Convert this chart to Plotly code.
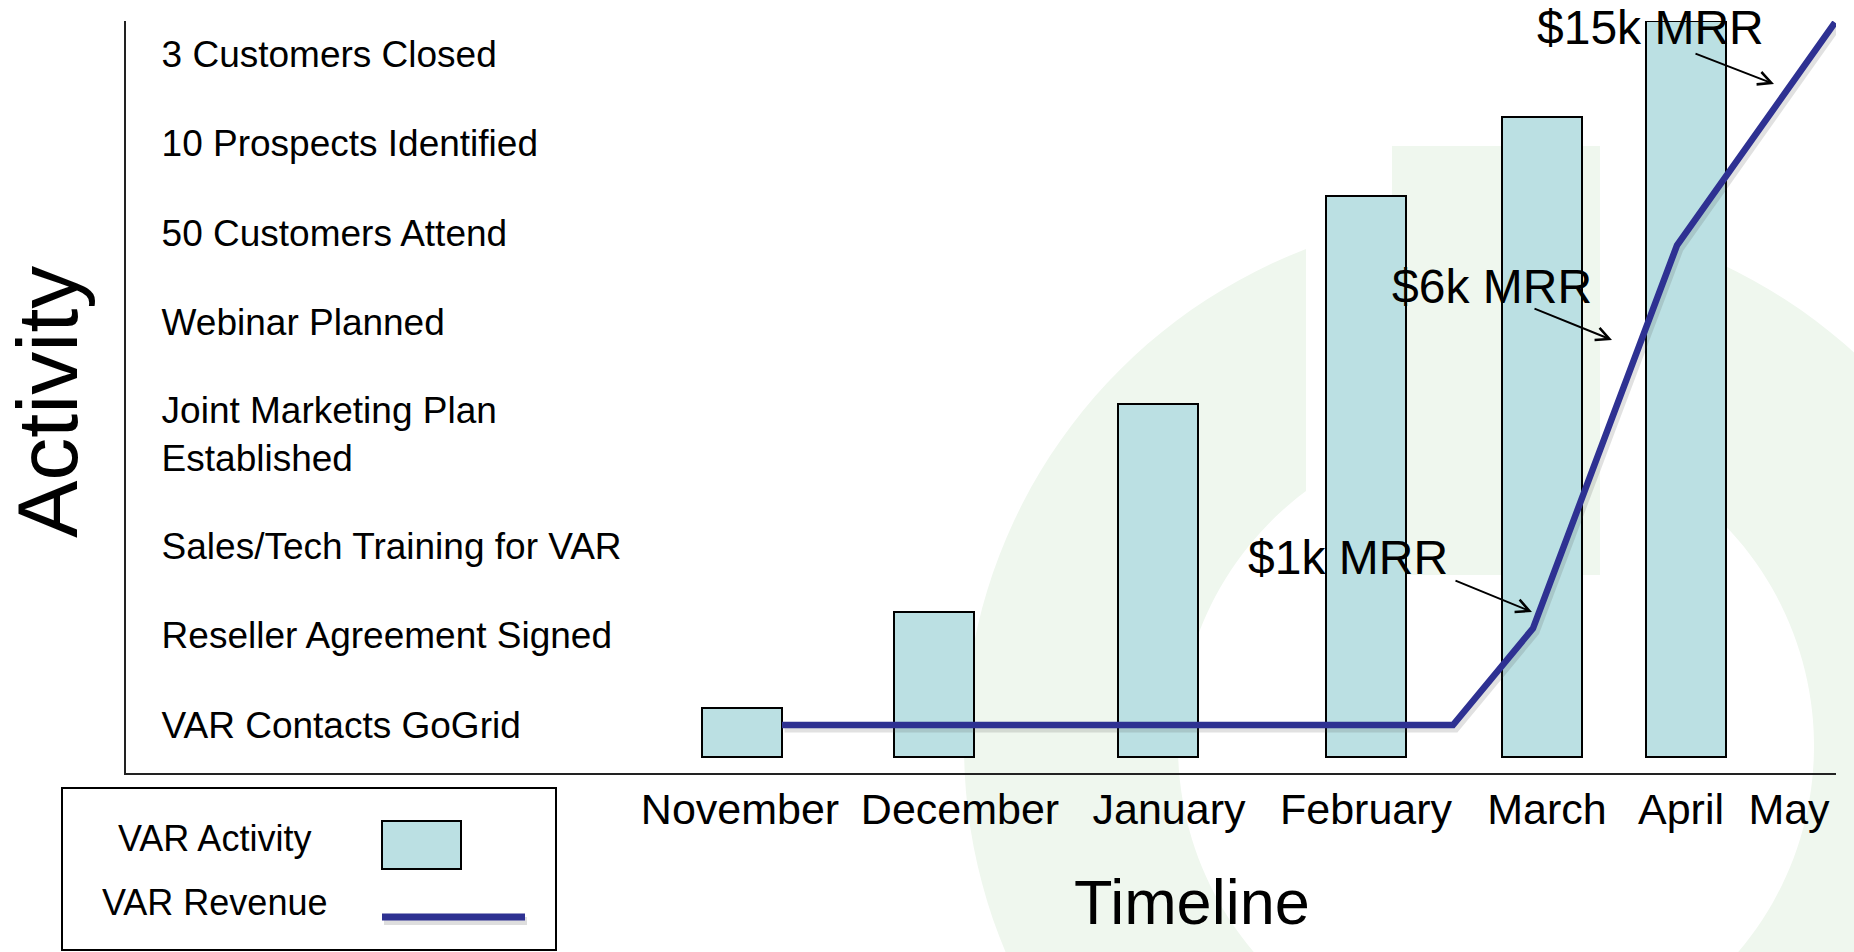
import numpy as np
import plotly.graph_objects as go

# ---- data ---------------------------------------------------------------
# Timeline (x) positions are in "timeline units"; activity (y) levels are
# one unit per milestone, with "VAR Contacts GoGrid" at level 1.
month_labels = ["November", "December", "January", "February", "March", "April", "May"]
month_label_pos = [6.14, 8.34, 10.43, 12.40, 14.21, 15.55, 16.63]

bar_months = ["November", "December", "January", "February", "March", "April"]
bar_pos = [6.16, 8.08, 10.32, 12.395, 14.16, 15.60]
activity_top = [1.19, 2.26, 4.59, 6.91, 7.79, 8.87]
activity_base = 0.64

activity_labels = [
    "VAR Contacts GoGrid",
    "Reseller Agreement Signed",
    "Sales/Tech Training for VAR",
    "Joint Marketing Plan<br>Established",
    "Webinar Planned",
    "50 Customers Attend",
    "10 Prospects Identified",
    "3 Customers Closed",
]
activity_levels = [1, 2, 3, 4.25, 5.5, 6.5, 7.5, 8.5]

revenue_x = [6.56, 13.27, 14.07, 15.51, 17.09]
revenue_y = [1.0, 1.0, 2.08, 6.36, 8.85]

mrr_labels = ["$1k MRR", "$6k MRR", "$15k MRR"]
mrr_text_xy = [(12.22, 2.877), (13.66, 5.905), (15.24, 8.79)]
mrr_arrow_tail = [(13.28, 2.62), (14.07, 5.659), (15.68, 8.508)]
mrr_arrow_tip = [(14.06, 2.263), (14.86, 5.302), (16.48, 8.162)]

# ---- styling ------------------------------------------------------------
FONT = "Liberation Sans, Arial, sans-serif"
BAR_FILL = "#BBE0E3"
LINE_BLUE = "#2E3192"
WATERMARK = "#EFF7EE"

W, H = 1854, 952
ML, MR, MT, MB = 126, 18, 21, 179
PW, PH = W - ML - MR, H - MT - MB
X_RANGE = [0, 17.10]
Y_RANGE = [0.4637, 8.866]


def px(x):
    """pixel column -> paper x"""
    return (x - ML) / PW


def py(y):
    """pixel row -> paper y"""
    return (H - MB - y) / PH


fig = go.Figure()

# soft drop shadow under the revenue line
fig.add_trace(go.Scatter(
    x=[v + 0.025 for v in revenue_x], y=[v - 0.04 for v in revenue_y],
    mode="lines", line=dict(color="rgba(70,70,70,0.16)", width=8),
    hoverinfo="skip", showlegend=False,
))

fig.add_trace(go.Bar(
    x=bar_pos, y=[t - activity_base for t in activity_top], base=activity_base,
    width=0.8, name="VAR Activity", text=bar_months, textposition="none",
    marker=dict(color=BAR_FILL, line=dict(color="black", width=2)),
    showlegend=False,
))

fig.add_trace(go.Scatter(
    x=revenue_x, y=revenue_y, mode="lines", name="VAR Revenue",
    line=dict(color=LINE_BLUE, width=6.5), showlegend=False,
))

# ---- watermark: light power-symbol logo ----------------------------------
cx, cy, R, r, gap = 1496, 746, 532, 318, 190
t_out0 = np.degrees(np.arccos(-gap / R))
t_in0 = np.degrees(np.arccos(-gap / r))
t_outer = np.radians(np.linspace(t_out0, 360 + (180 - t_out0), 160))
t_inner = np.radians(np.linspace(360 + (180 - t_in0), t_in0, 160))
pts = [(cx + R * np.cos(t), cy - R * np.sin(t)) for t in t_outer]
pts += [(cx + r * np.cos(t), cy - r * np.sin(t)) for t in t_inner]
ring_path = "M " + " L ".join(f"{px(a):.5f},{py(b):.5f}" for a, b in pts) + " Z"

shapes = [
    dict(type="path", path=ring_path, xref="paper", yref="paper",
         fillcolor=WATERMARK, line=dict(width=0), layer="below"),
    dict(type="rect", xref="paper", yref="paper",
         x0=px(1392), x1=px(1600), y0=py(575), y1=py(146),
         fillcolor=WATERMARK, line=dict(width=0), layer="below"),
]

# ---- legend box ------------------------------------------------------------
shapes += [
    dict(type="rect", xref="paper", yref="paper",
         x0=px(62), x1=px(556), y0=py(950), y1=py(788),
         line=dict(color="black", width=2), fillcolor="white", layer="above"),
    dict(type="rect", xref="paper", yref="paper",
         x0=px(382), x1=px(461), y0=py(869), y1=py(821),
         line=dict(color="black", width=2), fillcolor=BAR_FILL, layer="above"),
    dict(type="line", xref="paper", yref="paper",
         x0=px(384), x1=px(527), y0=py(921), y1=py(921),
         line=dict(color="rgba(70,70,70,0.18)", width=8), layer="above"),
    dict(type="line", xref="paper", yref="paper",
         x0=px(382), x1=px(525), y0=py(917), y1=py(917),
         line=dict(color=LINE_BLUE, width=7), layer="above"),
]


def paper_text(text, x, y, size, **kw):
    return dict(text=text, xref="paper", yref="paper", x=px(x), y=py(y),
                xanchor="center", yanchor="middle", showarrow=False,
                font=dict(family=FONT, size=size, color="black"), **kw)


annotations = [
    paper_text("VAR Activity", 214, 838, 36),
    paper_text("VAR Revenue", 214, 902, 36),
    paper_text("Activity", 47, 402, 86, textangle=-90),
    paper_text("Timeline", 1192, 902, 63),
]

for label, (tx, ty), (ax, ay), (hx, hy) in zip(mrr_labels, mrr_text_xy,
                                                 mrr_arrow_tail, mrr_arrow_tip):
    annotations.append(dict(
        text="", x=hx, y=hy, ax=ax, ay=ay, xref="x", yref="y",
        axref="x", ayref="y", showarrow=True, arrowhead=5, arrowsize=1.3,
        arrowwidth=2, arrowcolor="black", standoff=0, startstandoff=0,
    ))
    annotations.append(dict(
        text=label, x=tx, y=ty, xref="x", yref="y", showarrow=False,
        xanchor="center", yanchor="middle",
        font=dict(family=FONT, size=48, color="black"),
    ))

fig.update_layout(
    width=W, height=H,
    margin=dict(l=ML, r=MR, t=MT, b=MB, pad=0),
    paper_bgcolor="white", plot_bgcolor="rgba(0,0,0,0)",
    font=dict(family=FONT, color="black"),
    showlegend=False,
    shapes=shapes, annotations=annotations,
    bargap=0,
)

fig.update_xaxes(
    range=X_RANGE, showgrid=False, zeroline=False,
    showline=True, linecolor="#222222", linewidth=2,
    tickmode="array", tickvals=month_label_pos, ticktext=month_labels,
    ticks="", tickfont=dict(family=FONT, size=43, color="black"),
    ticklabelstandoff=-3, fixedrange=True,
)
fig.update_yaxes(
    range=Y_RANGE, showgrid=False, zeroline=False,
    showline=True, linecolor="#222222", linewidth=2,
    tickmode="array", tickvals=activity_levels, ticktext=activity_labels,
    ticks="", ticklabelposition="inside",
    tickfont=dict(family=FONT, size=37, color="black"),
    ticklabelstandoff=40, fixedrange=True,
)

fig.write_html("out.html")
